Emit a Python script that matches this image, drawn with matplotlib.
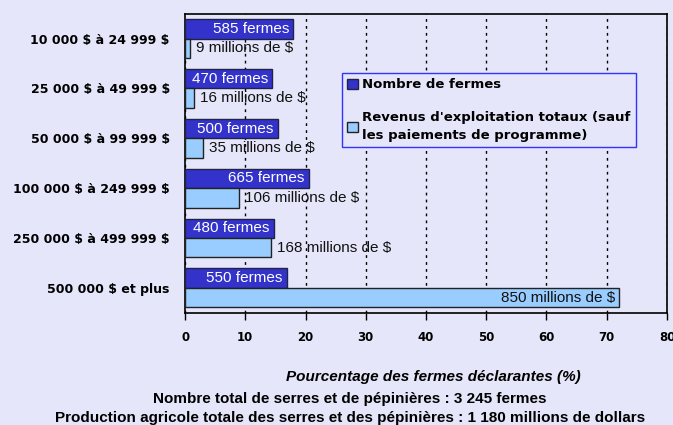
import matplotlib.pyplot as plt
import numpy as np

plt.rcParams['text.parse_math'] = False

categories = ['10 000 $ à 24 999 $', '25 000 $ à 49 999 $', '50 000 $ à 99 999 $',
              '100 000 $ à 249 999 $', '250 000 $ à 499 999 $', '500 000 $ et plus']
pct_farms = [18.0, 14.5, 15.4, 20.5, 14.8, 16.9]
pct_revenue = [0.8, 1.4, 3.0, 9.0, 14.2, 72.0]
farm_labels = ['585 fermes', '470 fermes', '500 fermes', '665 fermes', '480 fermes', '550 fermes']
rev_labels = ['9 millions de $', '16 millions de $', '35 millions de $',
              '106 millions de $', '168 millions de $', '850 millions de $']

bg = '#E6E6FA'
dark = '#3333CC'
light = '#99CCFF'

fig = plt.figure(figsize=(6.73, 4.25), dpi=100, facecolor=bg)
ax = fig.add_axes([0.275, 0.264, 0.716, 0.704], facecolor=bg)

y = np.arange(len(categories))
h = 0.39
ax.barh(y - h / 2, pct_farms, height=h, color=dark, edgecolor='#222244', linewidth=1,
        label='Nombre de fermes', zorder=3)
ax.barh(y + h / 2, pct_revenue, height=h, color=light, edgecolor='#222222', linewidth=1,
        label="Revenus d'exploitation totaux (sauf\nles paiements de programme)", zorder=3)

for yi, v, t in zip(y, pct_farms, farm_labels):
    ax.text(v - 0.75, yi - h / 2, t, color='white', ha='right', va='center',
            fontsize=11, family='Liberation Sans', zorder=4)
for yi, v, t in zip(y, pct_revenue, rev_labels):
    if v > 40:
        ax.text(v - 0.6, yi + h / 2, t, color='#111111', ha='right', va='center',
                fontsize=11, family='Liberation Sans', zorder=4)
    else:
        ax.text(v + 1.0, yi + h / 2, t, color='#111111', ha='left', va='center',
                fontsize=11, family='Liberation Sans', zorder=4)

ax.set_xlim(0, 80)
ax.set_ylim(len(categories) - 0.5, -0.5)
ax.set_xticks(range(0, 81, 10))
ax.set_yticks(y)
ax.set_yticklabels(categories, fontsize=9, fontweight='bold', family='DejaVu Sans')
ax.tick_params(axis='y', length=0, pad=11)
ax.tick_params(axis='x', length=5, width=1, pad=8, labelsize=8.5)
for lab in ax.get_xticklabels():
    lab.set_fontweight('bold')
ax.grid(axis='x', color='black', linestyle=(0, (2, 3)), linewidth=1, zorder=1)
for s in ax.spines.values():
    s.set_color('black')
    s.set_linewidth(1.2)

ax.set_xlabel('Pourcentage des fermes déclarantes (%)', fontsize=11, fontweight='bold',
              style='italic', family='Liberation Sans')
ax.xaxis.set_label_coords(0.515, -0.19)

leg = ax.legend(loc='upper left', bbox_to_anchor=(0.326, 0.801), frameon=True, fancybox=False,
                prop={'family': 'DejaVu Sans', 'weight': 'bold', 'size': 9.5},
                handlelength=0.8, handleheight=0.8, handletextpad=0.3, labelspacing=1.5,
                borderpad=0.4, borderaxespad=0)
for t in leg.get_texts():
    t.set_linespacing(1.45)
leg.get_frame().set_edgecolor('#3333FF')
leg.get_frame().set_facecolor(bg)
leg.get_frame().set_alpha(1)
leg.get_frame().set_linewidth(1)

fig.text(0.52, 0.061, 'Nombre total de serres et de pépinières : 3 245 fermes', ha='center',
         va='center', fontsize=11, fontweight='bold', family='Liberation Sans')
fig.text(0.52, 0.0165, 'Production agricole totale des serres et des pépinières : 1 180 millions de dollars',
         ha='center', va='center', fontsize=11, fontweight='bold', family='Liberation Sans')

fig.savefig('out.png', dpi=100, facecolor=bg)
